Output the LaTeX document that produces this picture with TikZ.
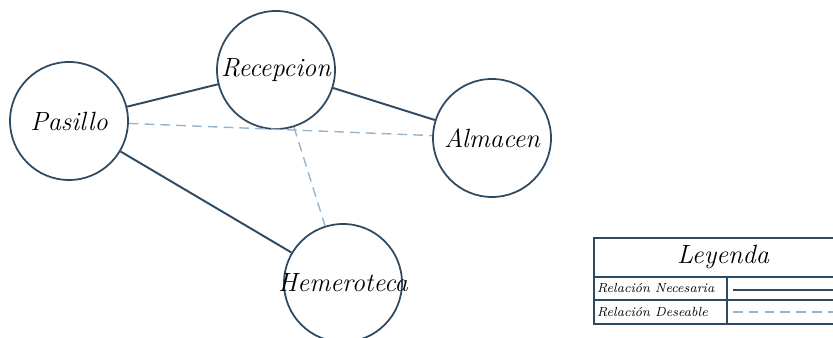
\documentclass[tikz,border=0pt]{standalone}
\usepackage{tikz}
\usetikzlibrary{positioning, calc}
\definecolor{rimblue}{RGB}{46,74,98}
\definecolor{dashblue}{RGB}{150,180,205}

\begin{document}
\begin{tikzpicture}[
  room/.style={circle, draw=rimblue, line width=1pt, minimum size=2.36cm, inner sep=0pt, font=\fontsize{15}{17}\selectfont\itshape},
  needed/.style={line width=1.1pt, draw=rimblue},
  wanted/.style={line width=0.8pt, draw=dashblue, dash pattern=on 5.5pt off 3.5pt},
  cell/.style={draw=rimblue, line width=0.8pt},
  celltext/.style={font=\fontsize{7.5}{8}\selectfont\itshape, anchor=west, inner sep=1pt}
]
  \useasboundingbox (0,0) rectangle (16.66,6.76);
  \clip (0,0) rectangle (16.66,6.76);

  % Rooms
  \node[room] (pasillo) at (1.38,4.34) {Pasillo};
  \node[room] (recepcion) at (5.52,5.36) {Recepcion};
  \node[room] (almacen) at (9.84,4.00) {Almacen};
  \node[room] (hemeroteca) at (6.86,1.10) {\makebox[0pt]{Hemeroteca}};

  % Relations
  \draw[needed] (pasillo) -- (recepcion);
  \draw[needed] (recepcion) -- (almacen);
  \draw[needed] (pasillo) -- (hemeroteca);
  \draw[wanted] (pasillo) -- (almacen);
  \draw[wanted] (recepcion) -- (hemeroteca);

  % Legend
  \draw[cell] (11.88,0.28) rectangle (17.04,2.00);
  \draw[cell] (11.88,1.22) -- (17.04,1.22);
  \draw[cell] (11.88,0.76) -- (17.04,0.76);
  \draw[cell] (14.54,0.28) -- (14.54,1.22);
  \node[font=\fontsize{15}{17}\selectfont\itshape] (leyenda) at (14.46,1.61) {Leyenda};
  \node[celltext] (necesaria) at (11.90,0.99) {Relación Necesaria};
  \node[celltext] (deseable) at (11.90,0.52) {Relación Deseable};
  \coordinate (necA) at (14.66,0.96);
  \coordinate (necB) at (17.04,0.96);
  \coordinate (desA) at (14.66,0.52);
  \coordinate (desB) at (17.04,0.52);
  \draw[needed] (necA) -- (necB);
  \draw[wanted] (desA) -- (desB);
\end{tikzpicture}
\end{document}
